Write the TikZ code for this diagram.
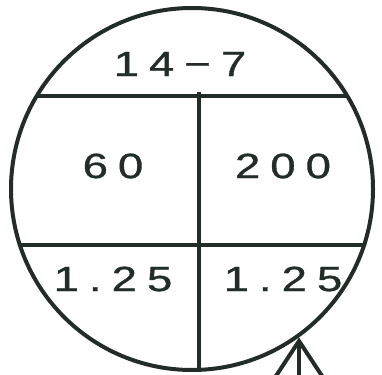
\documentclass[tikz,border=0pt]{standalone}
\usepackage{fontspec}
\newfontfamily\platefont[LetterSpace=22, FakeBold=0.8]{Liberation Sans}
\definecolor{ink}{RGB}{35,45,40}

\begin{document}
\begin{tikzpicture}[x=1pt, y=-1pt, line width=4pt,
    every node/.style={font=\platefont\fontsize{35}{35}\selectfont, text=ink,
        inner sep=0pt, xscale=1.3}]
    \useasboundingbox (0,0) rectangle (382,374);

    % Felder im Kreis
    \begin{scope}
        \clip (192,189) circle (181);
        \draw[ink] (0,96) -- (382,96);
        \draw[ink] (0,245) -- (382,245);
        \draw[ink] (199,92) -- (199,380);
    \end{scope}

    % Kreis
    \draw[ink] (192,189) circle (181);

    % Beschriftung
    \node (titel) at (180,64) {14−7};
    \node (links) at (113,166) {60};
    \node (rechts) at (283,166) {200};
    \node (untenl) at (113,279) {1.25};
    \node (untenr) at (283,279) {1.25};

    % Pfeil
    \coordinate (spitze) at (299,341);
    \draw[ink, line join=miter] (272,382) -- (spitze) -- (326,382);
    \draw[ink] (spitze) -- (299,382);
\end{tikzpicture}
\end{document}
